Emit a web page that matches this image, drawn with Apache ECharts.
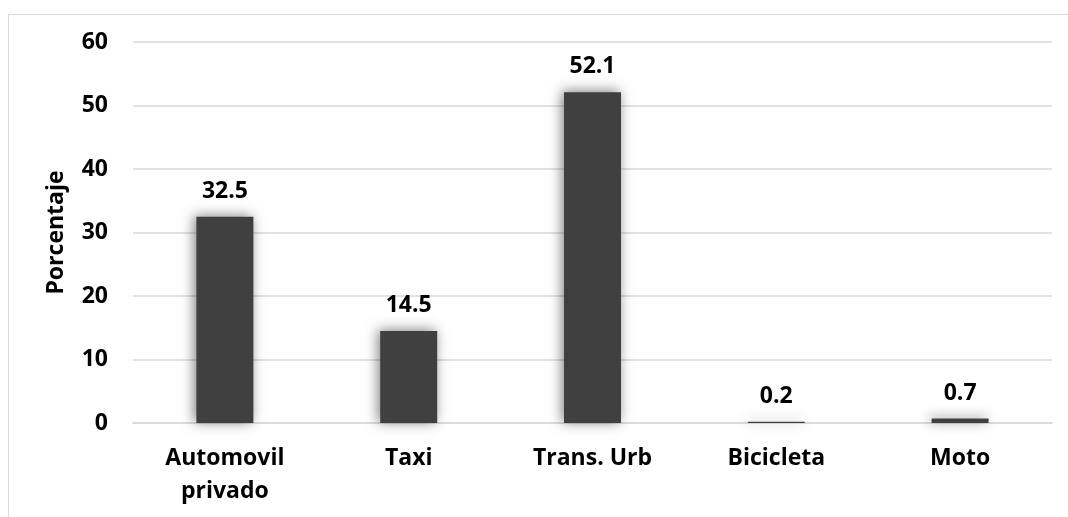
<!DOCTYPE html>
<html>
<head>
<meta charset="utf-8">
<title>Modo de transporte</title>
<script src="https://cdn.jsdelivr.net/npm/echarts@6/dist/echarts.min.js"></script>
<style>
  html, body { margin: 0; padding: 0; background: #ffffff; }
  #chart { width: 1068px; height: 517px; }
</style>
</head>
<body>
<div id="chart"></div>
<script>
// Modal share of trips, in percent
const categories = ['Automovil\nprivado', 'Taxi', 'Trans. Urb', 'Bicicleta', 'Moto'];
const shares = [32.5, 14.5, 52.1, 0.2, 0.7];
const yTicks = [0, 10, 20, 30, 40, 50, 60];

const FONT = '"Open Sans", "Noto Sans", sans-serif';
const chart = echarts.init(document.getElementById('chart'), null, { renderer: 'canvas' });

chart.setOption({
  animation: false,
  backgroundColor: '#ffffff',
  graphic: [{
    type: 'rect',
    left: 6, top: 12,
    shape: { width: 1200, height: 700 },
    style: { fill: 'none', stroke: '#d9d9d9', lineWidth: 1 },
    silent: true
  }],
  grid: { left: 133, right: 16, top: 42, bottom: 94, containLabel: false },
  xAxis: {
    type: 'category',
    data: categories,
    axisLine: { lineStyle: { color: '#d9d9d9', width: 1.5 } },
    axisTick: { show: false },
    axisLabel: {
      color: '#000000', fontFamily: FONT, fontWeight: 'bold', fontSize: 23,
      lineHeight: 33, margin: 19, interval: 0
    }
  },
  yAxis: {
    type: 'value',
    min: yTicks[0], max: yTicks[yTicks.length - 1], interval: 10,
    name: 'Porcentaje',
    nameLocation: 'middle',
    nameGap: 65,
    nameTextStyle: { color: '#000000', fontFamily: FONT, fontWeight: 'bold', fontSize: 23 },
    axisLine: { show: false },
    axisTick: { show: false },
    splitLine: { lineStyle: { color: '#d9d9d9', width: 1.5 } },
    axisLabel: {
      color: '#000000', fontFamily: FONT, fontWeight: 'bold', fontSize: 23, margin: 25
    }
  },
  series: [{
    type: 'bar',
    data: shares,
    barWidth: 57,
    itemStyle: {
      color: '#404040',
      shadowBlur: 12,
      shadowColor: 'rgba(0,0,0,0.5)',
      shadowOffsetX: -2,
      shadowOffsetY: -1
    },
    label: {
      show: true,
      position: 'top',
      distance: 14,
      color: '#000000', fontFamily: FONT, fontWeight: 'bold', fontSize: 23,
      formatter: p => p.value.toFixed(1)
    }
  }]
});
</script>
</body>
</html>
